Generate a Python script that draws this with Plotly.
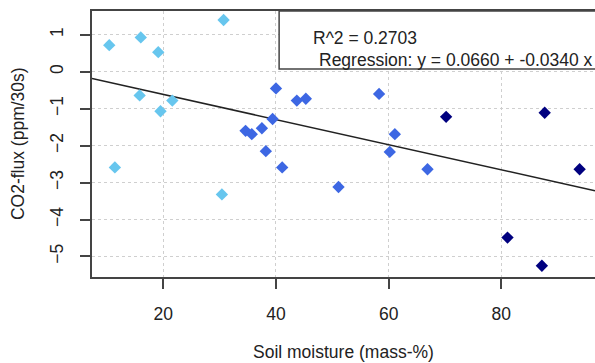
import plotly.graph_objects as go

# Data
light_x = [10.4, 16.0, 19.1, 30.7, 15.8, 21.6, 19.5, 11.4, 30.4]
light_y = [0.72, 0.93, 0.53, 1.40, -0.64, -0.78, -1.07, -2.59, -3.32]
mid_x = [40.0, 43.7, 45.3, 39.4, 34.6, 35.7, 37.5, 38.2, 41.1, 58.3, 61.1, 60.2, 66.9, 51.1]
mid_y = [-0.45, -0.78, -0.73, -1.28, -1.60, -1.69, -1.53, -2.15, -2.59, -0.60, -1.69, -2.17, -2.64, -3.12]
dark_x = [70.2, 87.7, 93.9, 81.1, 87.2]
dark_y = [-1.22, -1.11, -2.64, -4.49, -5.25]

intercept = 0.0660
slope = -0.0340
r2 = 0.2703

x_ticks = [20, 40, 60, 80]
y_ticks = [1, 0, -1, -2, -3, -4, -5]

x_range = [7.34, 96.63]
y_range = [-5.556, 1.645]

FONT = "Liberation Sans, Arial, sans-serif"
FS = 17.5
TXT = "#222222"
AX = "#444444"

fig = go.Figure()

fig.add_trace(go.Scatter(
    x=x_range, y=[intercept + slope * v for v in x_range],
    mode="lines", line=dict(color="#222222", width=1.5), hoverinfo="skip"))

for xs, ys, col in [(light_x, light_y, "#67C6EE"),
                    (mid_x, mid_y, "#3D67E3"),
                    (dark_x, dark_y, "#00007F")]:
    fig.add_trace(go.Scatter(
        x=xs, y=ys, mode="markers",
        marker=dict(symbol="diamond", size=9.5, color=col, line=dict(width=0))))

fig.update_layout(
    width=595, height=363,
    margin=dict(l=92, r=0, t=11, b=86),
    paper_bgcolor="white", plot_bgcolor="white",
    showlegend=False,
    font=dict(family=FONT, size=FS, color=TXT),
    xaxis=dict(range=x_range, tickvals=x_ticks, ticks="outside", ticklen=10,
               tickwidth=1.5, tickcolor=AX, showline=True, linecolor=AX,
               linewidth=1.5, mirror=True, showgrid=True, gridcolor="#CFCFCF",
               griddash="dot", gridwidth=1.2, zeroline=False,
               ticklabelstandoff=10, tickfont=dict(size=FS, color=TXT)),
    yaxis=dict(range=y_range, tickvals=y_ticks, ticks="outside", ticklen=10,
               tickwidth=1.5, tickcolor=AX, showline=True, linecolor=AX,
               linewidth=1.5, mirror=False, showgrid=True, gridcolor="#CFCFCF",
               griddash="dot", gridwidth=1.2, zeroline=False, tickangle=-90,
               ticklabelstandoff=10, tickfont=dict(size=FS, color=TXT)),
)

# legend box (top-right)
fig.add_shape(type="rect", xref="paper", yref="paper",
              x0=0.372, x1=1.05, y0=0.782, y1=1.0,
              fillcolor="white", line=dict(color=AX, width=1.5), layer="above")

fig.add_annotation(xref="paper", yref="paper", x=0.4348, y=0.898,
                   xanchor="left", yanchor="middle", showarrow=False,
                   text=f"R^2 = {r2:.4f}", font=dict(size=FS, color=TXT))
fig.add_annotation(xref="paper", yref="paper", x=0.4467, y=0.8156,
                   xanchor="left", yanchor="middle", showarrow=False,
                   text=f"Regression: y = {intercept:.4f} + {slope:.4f} x",
                   font=dict(size=FS, color=TXT))

# axis titles
fig.add_annotation(xref="paper", yref="paper", x=0.5, y=-0.283,
                   xanchor="center", yanchor="middle", showarrow=False,
                   text="Soil moisture (mass-%)", font=dict(size=FS, color=TXT))
fig.add_annotation(xref="paper", yref="paper", x=-0.147, y=0.5,
                   xanchor="center", yanchor="middle", showarrow=False,
                   textangle=-90, text="CO2-flux (ppm/30s)",
                   font=dict(size=FS, color=TXT))

fig.write_html("out.html")
